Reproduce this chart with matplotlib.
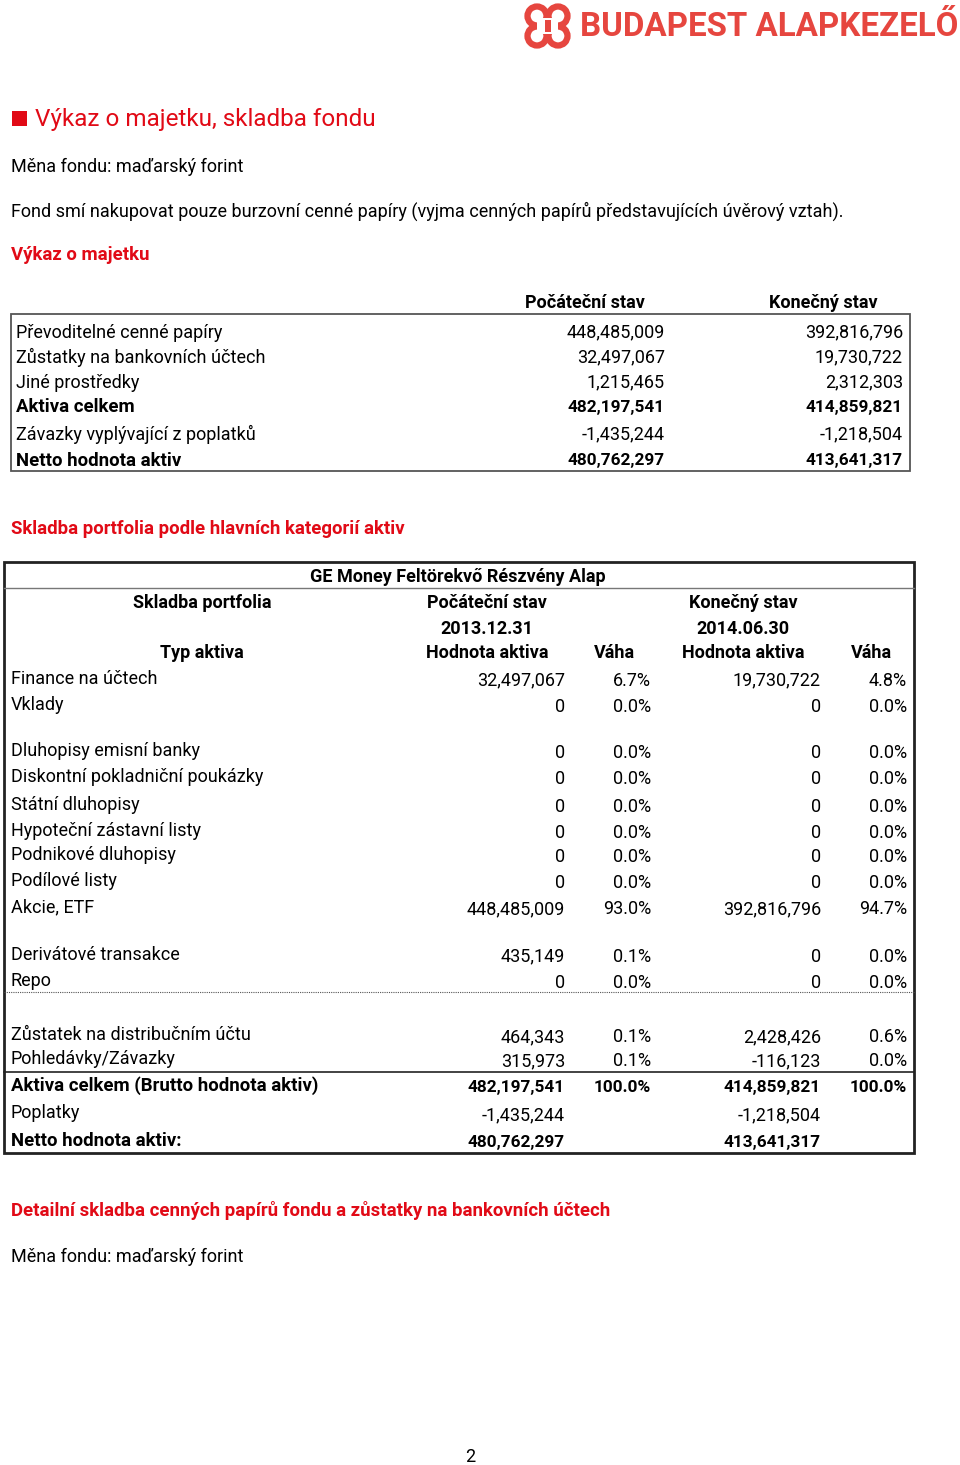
import matplotlib
matplotlib.use("Agg")
import matplotlib.pyplot as plt
from matplotlib.patches import Rectangle, Circle

# ---------------- data ----------------
company_name = "BUDAPEST ALAPKEZELŐ"
page_title = "Výkaz o majetku, skladba fondu"
currency_line = "Měna fondu: maďarský forint"
policy_line = ("Fond smí nakupovat pouze burzovní cenné papíry "
               "(vyjma cenných papírů představujících úvěrový vztah).")
section1_title = "Výkaz o majetku"
section2_title = "Skladba portfolia podle hlavních kategorií aktiv"
section3_title = "Detailní skladba cenných papírů fondu a zůstatky na bankovních účtech"
page_number = "2"

summary_columns = ["Počáteční stav", "Konečný stav"]
summary_labels = ["Převoditelné cenné papíry", "Zůstatky na bankovních účtech",
                  "Jiné prostředky", "Aktiva celkem",
                  "Závazky vyplývající z poplatků", "Netto hodnota aktiv"]
summary_bold = [False, False, False, True, False, True]
summary_start = [448485009, 32497067, 1215465, 482197541, -1435244, 480762297]
summary_end = [392816796, 19730722, 2312303, 414859821, -1218504, 413641317]

fund_name = "GE Money Feltörekvő Részvény Alap"
portfolio_header = ["Skladba portfolia", "Počáteční stav", "Konečný stav"]
portfolio_dates = ["2013.12.31", "2014.06.30"]
portfolio_subheader = ["Typ aktiva", "Hodnota aktiva", "Váha", "Hodnota aktiva", "Váha"]
portfolio_labels = ["Finance na účtech", "Vklady",
                    "Dluhopisy emisní banky", "Diskontní pokladniční poukázky",
                    "Státní dluhopisy", "Hypoteční zástavní listy",
                    "Podnikové dluhopisy", "Podílové listy", "Akcie, ETF",
                    "Derivátové transakce", "Repo",
                    "Zůstatek na distribučním účtu", "Pohledávky/Závazky",
                    "Aktiva celkem (Brutto hodnota aktiv)", "Poplatky",
                    "Netto hodnota aktiv:"]
portfolio_bold = [False] * 13 + [True, False, True]
start_values = [32497067, 0, 0, 0, 0, 0, 0, 0, 448485009, 435149, 0,
                464343, 315973, 482197541, -1435244, 480762297]
start_weights = [6.7, 0.0, 0.0, 0.0, 0.0, 0.0, 0.0, 0.0, 93.0, 0.1, 0.0,
                 0.1, 0.1, 100.0, None, None]
end_values = [19730722, 0, 0, 0, 0, 0, 0, 0, 392816796, 0, 0,
              2428426, -116123, 414859821, -1218504, 413641317]
end_weights = [4.8, 0.0, 0.0, 0.0, 0.0, 0.0, 0.0, 0.0, 94.7, 0.0, 0.0,
               0.6, 0.0, 100.0, None, None]

# ---------------- layout ----------------
W, H = 960, 1465
RED = "#e10a16"
LOGO_RED = "#e6463f"
FONT = ["Roboto", "DejaVu Sans"]
BODY = 13.0
HEAD = 13.4
BOLD_LABEL = 13.4
BOLD_NUM = 12.4
DY = 1.5

fig = plt.figure(figsize=(W / 100, H / 100), dpi=100)
ax = fig.add_axes([0, 0, 1, 1])
ax.set_xlim(0, W)
ax.set_ylim(H, 0)
ax.axis("off")


def txt(x, y, s, size=BODY, color="black", weight="normal", ha="left", family=FONT):
    ax.text(x, y + DY, s, fontsize=size, color=color, fontweight=weight, ha=ha,
            va="center", family=family)


def fmt(v):
    return f"{v:,}"


# logo
for cx, cy in [(537, 16), (558, 16), (537, 36), (558, 36)]:
    ax.add_patch(Circle((cx, cy), 9.5, facecolor="white", edgecolor=LOGO_RED, lw=4.5))
ax.add_patch(Rectangle((537, 18), 21, 16, facecolor="white", edgecolor="none"))
ax.add_patch(Rectangle((544.5, 20), 6, 12, facecolor=LOGO_RED, edgecolor="none"))
ax.text(580, 27, company_name, fontsize=23.9, color=LOGO_RED, fontweight="bold",
        ha="left", va="center", family=FONT)

# title
ax.add_patch(Rectangle((12, 111), 15, 15, facecolor=RED, edgecolor="none"))
txt(35, 118, page_title, size=17.5, color=RED)
txt(11, 165, currency_line)
txt(11, 210, policy_line)
txt(11, 254, section1_title, size=HEAD, color=RED, weight="bold")

# summary table
txt(585, 302, summary_columns[0], weight="bold", ha="center")
txt(823, 302, summary_columns[1], weight="bold", ha="center")
ax.add_patch(Rectangle((11, 314), 899, 157, facecolor="none", edgecolor="#555555", lw=1.3))
summary_y = [331, 356, 381, 406, 433, 459]
for y, lab, b, s, e in zip(summary_y, summary_labels, summary_bold, summary_start, summary_end):
    w = "bold" if b else "normal"
    txt(16, y, lab, size=BOLD_LABEL if b else BODY, weight=w)
    nsz = BOLD_NUM if b else BODY
    txt(665, y, fmt(s), size=nsz, weight=w, ha="right")
    txt(903, y, fmt(e), size=nsz, weight=w, ha="right")

txt(11, 527, section2_title, size=HEAD, color=RED, weight="bold")

# portfolio table
ax.add_patch(Rectangle((4, 562), 910, 591, facecolor="none", edgecolor="#222222", lw=2))
ax.plot([4, 914], [588, 588], color="#777777", lw=1)
txt(458, 576, fund_name, weight="bold", ha="center")
txt(202, 602, portfolio_header[0], weight="bold", ha="center")
txt(487, 602, portfolio_header[1], weight="bold", ha="center")
txt(743, 602, portfolio_header[2], weight="bold", ha="center")
txt(487, 628, portfolio_dates[0], weight="bold", ha="center")
txt(743, 628, portfolio_dates[1], weight="bold", ha="center")
for x, s in zip([202, 487, 614, 743, 871], portfolio_subheader):
    txt(x, 651, s, weight="bold", ha="center")

row_y = [679, 706, 752, 778, 805, 831, 855, 881, 908, 955, 981,
         1036, 1060, 1086, 1114, 1141]
for i, y in enumerate(row_y):
    b = portfolio_bold[i]
    w = "bold" if b else "normal"
    nsz = BOLD_NUM if b else BODY
    txt(11, y - 2, portfolio_labels[i], size=BOLD_LABEL if b else BODY, weight=w)
    txt(565, y, fmt(start_values[i]), size=nsz, weight=w, ha="right")
    if start_weights[i] is not None:
        txt(651, y, f"{start_weights[i]:.1f}%", size=nsz, weight=w, ha="right")
    txt(821, y, fmt(end_values[i]), size=nsz, weight=w, ha="right")
    if end_weights[i] is not None:
        txt(907, y, f"{end_weights[i]:.1f}%", size=nsz, weight=w, ha="right")

ax.plot([4, 914], [992, 992], color="#555555", lw=0.8, ls=(0, (1, 1)))
ax.plot([4, 914], [1072, 1072], color="#222222", lw=1.2)

txt(11, 1209, section3_title, size=HEAD, color=RED, weight="bold")
txt(11, 1255, currency_line)
txt(470, 1456, page_number, ha="center")

fig.savefig("out.png", dpi=100)
